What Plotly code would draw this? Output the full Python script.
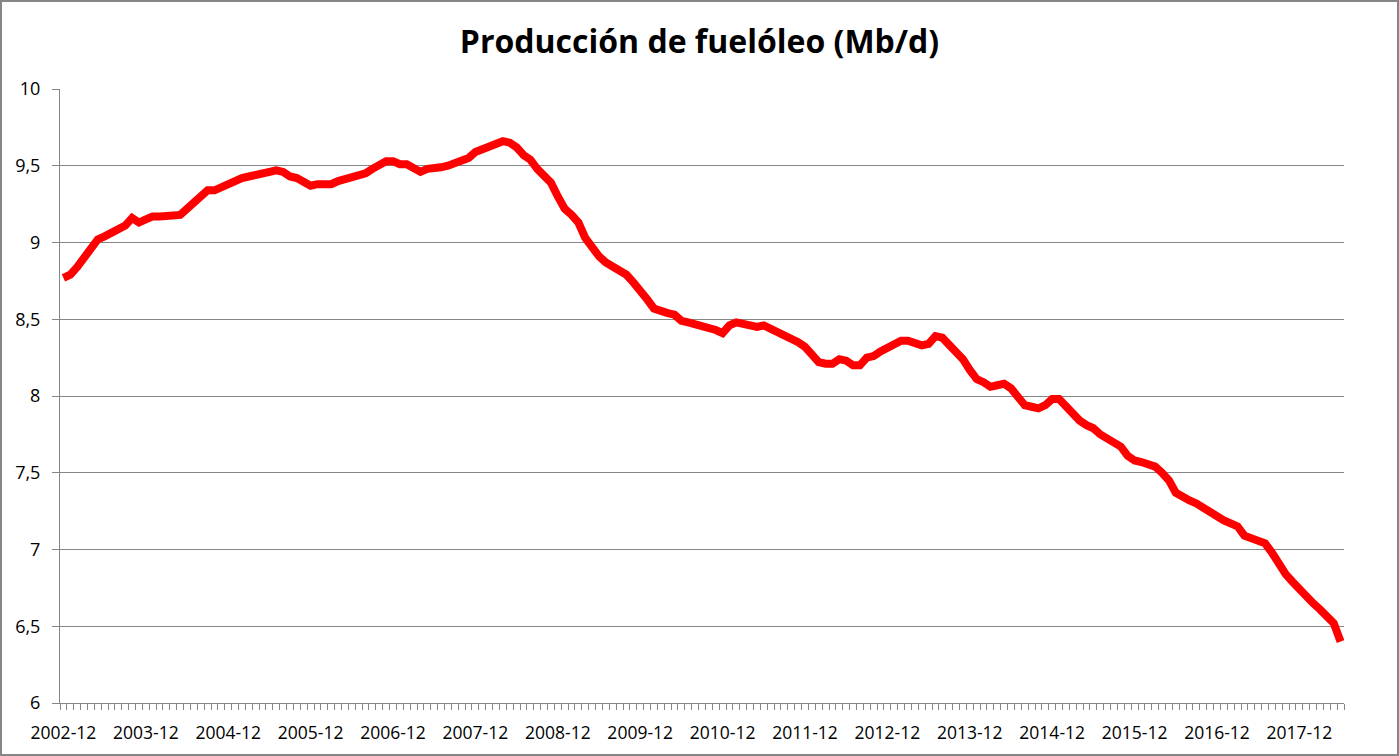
import pandas as pd
import plotly.graph_objects as go

# Monthly categories: 2002-12 .. 2018-06
months = [p.strftime("%Y-%m") for p in pd.period_range("2002-12", "2018-06", freq="M")]

# Fuel-oil production (Mb/d)
production = [
    8.77, 8.79, 8.84, 8.90, 8.96, 9.02, 9.04, 9.06, 9.08, 9.11, 9.16, 9.13,
    9.15, 9.17, 9.17, 9.17, 9.17, 9.18, 9.22, 9.26, 9.30, 9.34, 9.34, 9.36,
    9.38, 9.41, 9.42, 9.43, 9.44, 9.44, 9.45, 9.47, 9.46, 9.43, 9.42, 9.40,
    9.37, 9.38, 9.38, 9.38, 9.40, 9.41, 9.43, 9.44, 9.45, 9.48, 9.50, 9.53,
    9.53, 9.51, 9.51, 9.49, 9.46, 9.48, 9.48, 9.49, 9.50, 9.52, 9.54, 9.55,
    9.59, 9.61, 9.62, 9.64, 9.66, 9.65, 9.62, 9.57, 9.54, 9.48, 9.43, 9.39,
    9.30, 9.22, 9.18, 9.13, 9.03, 8.96, 8.91, 8.87, 8.84, 8.81, 8.79, 8.74,
    8.69, 8.63, 8.57, 8.55, 8.54, 8.53, 8.49, 8.48, 8.47, 8.46, 8.44, 8.43,
    8.41, 8.46, 8.48, 8.47, 8.45, 8.45, 8.46, 8.44, 8.42, 8.39, 8.37, 8.35,
    8.32, 8.26, 8.22, 8.21, 8.21, 8.24, 8.23, 8.20, 8.20, 8.25, 8.26, 8.29,
    8.31, 8.34, 8.36, 8.36, 8.34, 8.33, 8.34, 8.39, 8.38, 8.33, 8.29, 8.24,
    8.17, 8.11, 8.09, 8.06, 8.07, 8.08, 8.05, 7.99, 7.94, 7.93, 7.92, 7.94,
    7.98, 7.98, 7.93, 7.88, 7.84, 7.81, 7.79, 7.75, 7.72, 7.70, 7.67, 7.61,
    7.58, 7.57, 7.55, 7.54, 7.50, 7.45, 7.37, 7.34, 7.32, 7.30, 7.27, 7.24,
    7.22, 7.19, 7.17, 7.15, 7.09, 7.07, 7.06, 7.04, 6.98, 6.90, 6.84, 6.79,
    6.74, 6.69, 6.65, 6.61, 6.56, 6.52, 6.40,
]

title_text = "Producción de fuelóleo (Mb/d)"
y_ticks = [6, 6.5, 7, 7.5, 8, 8.5, 9, 9.5, 10]

idx = list(range(len(months)))
label_idx = idx[::12]
label_text = [months[i] for i in label_idx]

W, H = 1399, 756
ml, mr, mt, mb = 60, 55, 89, 53
pw, ph = W - ml - mr, H - mt - mb

grid_col = "#868686"
font_fam = "Open Sans, Lato, Liberation Sans, sans-serif"

fig = go.Figure()
fig.add_trace(go.Scatter(
    x=idx, y=production, mode="lines",
    line=dict(color="#FF0000", width=8),
    hoverinfo="x+y", showlegend=False,
))

fig.update_layout(
    width=W, height=H,
    margin=dict(l=ml, r=mr, t=mt, b=mb, pad=0),
    paper_bgcolor="white", plot_bgcolor="white",
    separators=",.",
    font=dict(family=font_fam, color="black", size=16),
    title=dict(text="<b>" + title_text + "</b>", x=0.5, xanchor="center",
               y=1 - 42 / H, yanchor="middle",
               font=dict(family=font_fam, size=32, color="black")),
    xaxis=dict(
        range=[-0.5, len(months) - 0.5],
        tickmode="array", tickvals=label_idx, ticktext=label_text,
        ticks="", showgrid=False, zeroline=False,
        showline=True, linecolor=grid_col, linewidth=1,
        tickfont=dict(size=17.5), ticklabelstandoff=14,
        minor=dict(tick0=-0.5, dtick=1, ticks="outside", ticklen=6,
                   tickcolor=grid_col, tickwidth=1, showgrid=False),
        fixedrange=True,
    ),
    yaxis=dict(
        range=[6, 10], tickmode="array", tickvals=y_ticks,
        ticks="outside", ticklen=7, tickcolor=grid_col, tickwidth=1,
        showgrid=True, gridcolor=grid_col, gridwidth=1,
        zeroline=False, showline=True, linecolor=grid_col, linewidth=1,
        tickfont=dict(size=18), ticklabelstandoff=8,
        fixedrange=True,
    ),
    shapes=[dict(
        type="rect", xref="paper", yref="paper",
        x0=-(ml - 1) / pw, x1=1 + (mr - 1) / pw,
        y0=-(mb - 1) / ph, y1=1 + (mt - 1) / ph,
        line=dict(color=grid_col, width=2), layer="below",
    )],
)

fig.write_html("out.html", config={"displayModeBar": False},
               post_script="document.body.style.margin='0';")
